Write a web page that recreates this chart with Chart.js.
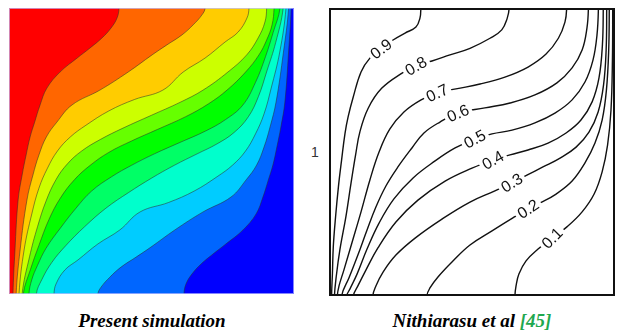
<!DOCTYPE html>
<html>
<head>
<meta charset="utf-8">
<script src="https://cdn.jsdelivr.net/npm/chart.js@4.4.1/dist/chart.umd.min.js"></script>
<style>
  html, body { margin: 0; padding: 0; background: #fff; }
  body { width: 619px; height: 330px; position: relative; overflow: hidden; }
  #wrapLeft { position: absolute; left: 9px; top: 8px; width: 285px; height: 286px; }
  #wrapRight { position: absolute; left: 329px; top: 8px; width: 286px; height: 288px; }
  .axisOne { position: absolute; left: 311px; top: 144px; font: 14px 'Liberation Sans', Arial, sans-serif; color: #333; }
  .caption { position: absolute; top: 310px; font: italic bold 19px 'Liberation Serif', 'Times New Roman', serif; white-space: nowrap; transform: translateX(-50%); color: #000; }
  .ref { color: #1fa84f; }
</style>
</head>
<body>
<div id="wrapLeft"><canvas id="simChart" width="285" height="286"></canvas></div>
<div id="wrapRight"><canvas id="refChart" width="286" height="288"></canvas></div>
<div class="axisOne">1</div>
<div class="caption" style="left:152px">Present simulation</div>
<div class="caption" style="left:472px">Nithiarasu et al <span class="ref">[45]</span></div>
<script>
// colour bands, hot wall (left) to cold wall (right)
const bandColors = ['#ff0000', '#ff6600', '#ffcc00', '#ccff00', '#66ff00', '#00ff00',
                    '#00ff66', '#00ffcc', '#00ccff', '#0066ff', '#0000ff'];

// present simulation: band edges, traced from top wall down to bottom wall (x, y in cavity units)
const simIso1 = [[0.386,1.0],[0.379,0.965],[0.358,0.93],[0.326,0.895],[0.284,0.86],[0.239,0.825],[0.179,0.776],[0.133,0.72],[0.109,0.661],[0.09,0.601],[0.074,0.549],[0.06,0.486],[0.046,0.416],[0.032,0.329],[0.021,0.154],[0.014,0]];
const simIso2 = [[0.688,1.0],[0.677,0.976],[0.646,0.941],[0.607,0.906],[0.554,0.871],[0.502,0.836],[0.418,0.776],[0.319,0.713],[0.221,0.661],[0.168,0.601],[0.131,0.549],[0.105,0.486],[0.084,0.416],[0.063,0.329],[0.039,0.154],[0.025,0]];
const simIso3 = [[0.842,1.0],[0.835,0.965],[0.804,0.916],[0.758,0.881],[0.688,0.825],[0.611,0.776],[0.54,0.713],[0.44,0.68],[0.35,0.64],[0.27,0.59],[0.215,0.549],[0.17,0.5],[0.135,0.44],[0.105,0.37],[0.08,0.28],[0.053,0.154],[0.035,0]];
const simIso4 = [[0.904,1.0],[0.898,0.951],[0.874,0.895],[0.834,0.836],[0.768,0.776],[0.681,0.713],[0.6,0.67],[0.5,0.625],[0.4,0.58],[0.32,0.54],[0.255,0.5],[0.205,0.455],[0.165,0.4],[0.13,0.325],[0.1,0.235],[0.072,0.13],[0.046,0]];
const simIso5 = [[0.93,1.0],[0.923,0.941],[0.904,0.888],[0.877,0.836],[0.83,0.776],[0.765,0.713],[0.7,0.665],[0.62,0.62],[0.52,0.575],[0.43,0.535],[0.35,0.495],[0.285,0.45],[0.23,0.4],[0.18,0.335],[0.14,0.26],[0.105,0.17],[0.075,0.085],[0.05,0]];
const simIso6 = [[0.951,1.0],[0.927,0.915],[0.9,0.83],[0.865,0.74],[0.82,0.66],[0.76,0.61],[0.69,0.57],[0.6,0.53],[0.51,0.49],[0.43,0.45],[0.36,0.41],[0.29,0.36],[0.235,0.3],[0.18,0.23],[0.13,0.16],[0.1,0.1],[0.08,0.05],[0.07,0]];
const simIso7 = [[0.962,1.0],[0.936,0.88],[0.905,0.78],[0.875,0.69],[0.84,0.62],[0.79,0.565],[0.73,0.525],[0.66,0.49],[0.58,0.45],[0.5,0.405],[0.42,0.355],[0.34,0.3],[0.265,0.235],[0.2,0.17],[0.15,0.11],[0.115,0.05],[0.096,0]];
const simIso8 = [[0.972,1.0],[0.95,0.846],[0.92,0.72],[0.895,0.63],[0.865,0.56],[0.83,0.5],[0.785,0.451],[0.73,0.41],[0.65,0.36],[0.56,0.32],[0.46,0.287],[0.389,0.224],[0.312,0.175],[0.242,0.119],[0.196,0.084],[0.165,0.035],[0.158,0]];
const simIso9 = [[0.981,1.0],[0.963,0.846],[0.937,0.671],[0.916,0.584],[0.895,0.514],[0.869,0.451],[0.832,0.399],[0.779,0.339],[0.681,0.287],[0.582,0.224],[0.498,0.164],[0.446,0.129],[0.393,0.094],[0.354,0.059],[0.323,0.024],[0.312,0]];
const simIso10 = [[0.99,1.0],[0.981,0.846],[0.968,0.671],[0.954,0.584],[0.94,0.514],[0.926,0.451],[0.91,0.399],[0.891,0.339],[0.867,0.28],[0.821,0.224],[0.761,0.175],[0.716,0.14],[0.674,0.105],[0.642,0.07],[0.621,0.035],[0.614,0]];

// Nithiarasu et al: labelled isotherms
const refLevels = ['0.9', '0.8', '0.7', '0.6', '0.5', '0.4', '0.3', '0.2', '0.1'];
const ref09 = [[0.321,1.0],[0.318,0.965],[0.304,0.934],[0.266,0.913],[0.224,0.889],[0.182,0.858],[0.143,0.826],[0.112,0.778],[0.085,0.692],[0.067,0.623],[0.056,0.565],[0.044,0.472],[0.033,0.38],[0.023,0.275],[0.015,0.171],[0.012,0.079],[0.009,0]];
const ref08 = [[0.63,1.0],[0.623,0.964],[0.604,0.924],[0.563,0.895],[0.493,0.86],[0.423,0.837],[0.36,0.816],[0.304,0.799],[0.254,0.773],[0.184,0.721],[0.137,0.652],[0.108,0.57],[0.093,0.49],[0.077,0.392],[0.059,0.275],[0.038,0.16],[0.026,0.073],[0.019,0]];
const ref07 = [[0.831,1.0],[0.825,0.951],[0.802,0.895],[0.759,0.84],[0.696,0.795],[0.615,0.76],[0.528,0.736],[0.444,0.719],[0.378,0.705],[0.322,0.681],[0.262,0.639],[0.213,0.58],[0.175,0.5],[0.143,0.403],[0.112,0.292],[0.08,0.184],[0.052,0.09],[0.035,0.035],[0.029,0]];
const ref06 = [[0.907,1.0],[0.902,0.931],[0.885,0.854],[0.85,0.792],[0.797,0.74],[0.72,0.698],[0.633,0.67],[0.545,0.653],[0.451,0.635],[0.388,0.604],[0.332,0.566],[0.29,0.514],[0.241,0.448],[0.199,0.382],[0.164,0.309],[0.133,0.229],[0.101,0.142],[0.07,0.063],[0.044,0]];
const ref05 = [[0.942,1.0],[0.937,0.906],[0.923,0.819],[0.895,0.743],[0.85,0.681],[0.79,0.635],[0.72,0.601],[0.64,0.576],[0.57,0.563],[0.51,0.545],[0.441,0.514],[0.371,0.469],[0.294,0.41],[0.227,0.337],[0.175,0.253],[0.133,0.163],[0.098,0.076],[0.073,0.024],[0.062,0]];
const ref04 = [[0.959,1.0],[0.956,0.872],[0.944,0.757],[0.92,0.674],[0.881,0.611],[0.829,0.566],[0.766,0.531],[0.696,0.507],[0.633,0.49],[0.573,0.472],[0.5,0.444],[0.406,0.399],[0.311,0.333],[0.234,0.257],[0.171,0.167],[0.129,0.09],[0.101,0.035],[0.085,0]];
const ref03 = [[0.971,1.0],[0.969,0.854],[0.96,0.733],[0.941,0.639],[0.909,0.569],[0.864,0.517],[0.808,0.479],[0.748,0.448],[0.692,0.42],[0.639,0.393],[0.58,0.365],[0.493,0.326],[0.395,0.267],[0.301,0.201],[0.234,0.142],[0.189,0.083],[0.164,0.035],[0.153,0]];
const ref02 = [[0.98,1.0],[0.978,0.854],[0.97,0.715],[0.955,0.611],[0.93,0.531],[0.895,0.462],[0.85,0.399],[0.794,0.354],[0.738,0.323],[0.696,0.302],[0.643,0.271],[0.57,0.226],[0.493,0.177],[0.43,0.118],[0.381,0.066],[0.353,0.028],[0.342,0]];
const ref01 = [[0.992,1.0],[0.991,0.819],[0.986,0.646],[0.974,0.524],[0.955,0.431],[0.927,0.354],[0.885,0.292],[0.832,0.24],[0.78,0.201],[0.731,0.163],[0.689,0.122],[0.664,0.076],[0.654,0.035],[0.65,0]];
const refLabelPos = [[0.182,0.858],[0.304,0.799],[0.378,0.705],[0.451,0.635],[0.51,0.545],[0.573,0.472],[0.639,0.393],[0.696,0.302],[0.78,0.201]];
const refLabelAngle = [-38, -30, -25, -24, -28, -30, -32, -33, -45];

const simIsotherms = [simIso1, simIso2, simIso3, simIso4, simIso5, simIso6, simIso7, simIso8, simIso9, simIso10];
const refIsotherms = [ref09, ref08, ref07, ref06, ref05, ref04, ref03, ref02, ref01];

function toPoints(arr) {
    return arr.map(p => ({ x: p[0], y: p[1] }));
}

// run the curve a little past both walls so it meets them square
function extendLine(line) {
    const top = line[0], bottom = line[line.length - 1];
    return [[top[0], 1.1]].concat(line, [[bottom[0], -0.1]]);
}

// closed region on the hot side of an isotherm (corner points sit outside the plot, get clipped)
function hotSide(line) {
    return extendLine(line).concat([[-0.4, -0.1], [-0.4, 1.1]]);
}

function baseOptions() {
    return {
        responsive: false,
        animation: false,
        devicePixelRatio: 1,
        events: [],
        layout: { padding: 0 },
        elements: { line: { capBezierPoints: false }, point: { radius: 0 } },
        plugins: { legend: { display: false }, tooltip: { enabled: false } },
        scales: {
            x: { type: 'linear', min: 0, max: 1, display: false },
            y: { type: 'linear', min: 0, max: 1, display: false }
        }
    };
}

// coldest band as the background of the left plot
const coldBackground = {
    id: 'coldBackground',
    beforeDatasetsDraw(chart) {
        const { ctx, chartArea: a } = chart;
        ctx.save();
        ctx.fillStyle = bandColors[bandColors.length - 1];
        ctx.fillRect(a.left, a.top, a.right - a.left, a.bottom - a.top);
        ctx.restore();
    },
    afterDraw(chart) {
        const { ctx, chartArea: a } = chart;
        ctx.save();
        ctx.strokeStyle = 'rgba(190,190,255,0.7)';
        ctx.lineWidth = 1;
        ctx.strokeRect(a.left + 0.5, a.top + 0.5, a.right - a.left - 1, a.bottom - a.top - 1);
        ctx.restore();
    }
};

new Chart(document.getElementById('simChart'), {
    type: 'line',
    data: {
        datasets: simIsotherms.map((line, i) => ({
            data: toPoints(hotSide(line)),
            fill: 'shape',
            backgroundColor: bandColors[i],
            borderColor: 'rgba(45,45,45,0.75)',
            borderWidth: 0.7,
            tension: 0.4,
            pointRadius: 0,
            clip: 0
        }))
    },
    options: baseOptions(),
    plugins: [coldBackground]
});

// box and inline level labels for the reference plot
const refDecor = {
    id: 'refDecor',
    afterDatasetsDraw(chart) {
        const { ctx, chartArea: a, scales: { x, y } } = chart;
        ctx.save();
        ctx.font = '16px "Liberation Sans", Arial, sans-serif';
        ctx.textAlign = 'center';
        ctx.textBaseline = 'middle';
        refLevels.forEach((txt, i) => {
            const px = x.getPixelForValue(refLabelPos[i][0]);
            const py = y.getPixelForValue(refLabelPos[i][1]);
            const w = ctx.measureText(txt).width;
            ctx.save();
            ctx.translate(px, py);
            ctx.rotate(refLabelAngle[i] * Math.PI / 180);
            ctx.fillStyle = '#fff';
            ctx.fillRect(-w / 2 - 3, -6, w + 6, 12);
            ctx.fillStyle = '#111';
            ctx.fillText(txt, 0, 1);
            ctx.restore();
        });
        ctx.strokeStyle = '#111';
        ctx.lineWidth = 2;
        ctx.strokeRect(a.left + 1, a.top + 1, a.right - a.left - 2, a.bottom - a.top - 2);
        ctx.restore();
    }
};

new Chart(document.getElementById('refChart'), {
    type: 'line',
    data: {
        datasets: refIsotherms.map(line => ({
            data: toPoints(extendLine(line)),
            fill: false,
            borderColor: '#111',
            borderWidth: 1.4,
            tension: 0.4,
            pointRadius: 0,
            clip: 0
        }))
    },
    options: baseOptions(),
    plugins: [refDecor]
});
</script>
</body>
</html>
